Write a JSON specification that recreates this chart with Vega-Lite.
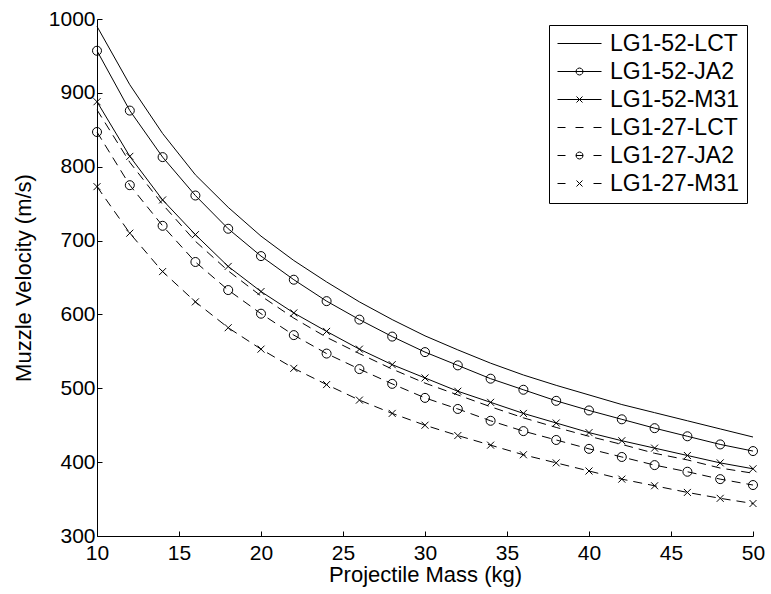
{
  "$schema": "https://vega.github.io/schema/vega-lite/v6.json",
  "width": 656,
  "height": 517,
  "autosize": {"type": "none"},
  "padding": {"left": 97, "top": 19, "right": 18, "bottom": 58},
  "background": "white",
  "config": {
    "view": {"stroke": null},
    "font": "Liberation Sans",
    "axis": {
      "labelFont": "Liberation Sans",
      "titleFont": "Liberation Sans",
      "labelFontSize": 21,
      "titleFontSize": 22,
      "titleFontWeight": "normal",
      "labelColor": "black",
      "titleColor": "black",
      "domainColor": "black",
      "tickColor": "black",
      "domainWidth": 1,
      "tickWidth": 1,
      "tickSize": -5,
      "grid": false,
      "labelFlush": false,
      "labelOverlap": false
    }
  },
  "data": {
    "values": [
      {"mass": 10, "LG1-52-LCT": 990, "LG1-52-JA2": 957, "LG1-52-M31": 888, "LG1-27-LCT": 877, "LG1-27-JA2": 847, "LG1-27-M31": 773},
      {"mass": 12, "LG1-52-LCT": 911, "LG1-52-JA2": 876, "LG1-52-M31": 814, "LG1-27-LCT": 806, "LG1-27-JA2": 775, "LG1-27-M31": 710},
      {"mass": 14, "LG1-52-LCT": 845, "LG1-52-JA2": 813, "LG1-52-M31": 755, "LG1-27-LCT": 749, "LG1-27-JA2": 720, "LG1-27-M31": 658},
      {"mass": 16, "LG1-52-LCT": 789, "LG1-52-JA2": 761, "LG1-52-M31": 708, "LG1-27-LCT": 699, "LG1-27-JA2": 671, "LG1-27-M31": 617},
      {"mass": 18, "LG1-52-LCT": 745, "LG1-52-JA2": 716, "LG1-52-M31": 665, "LG1-27-LCT": 659, "LG1-27-JA2": 633, "LG1-27-M31": 582},
      {"mass": 20, "LG1-52-LCT": 706, "LG1-52-JA2": 679, "LG1-52-M31": 631, "LG1-27-LCT": 625, "LG1-27-JA2": 601, "LG1-27-M31": 553},
      {"mass": 22, "LG1-52-LCT": 673, "LG1-52-JA2": 647, "LG1-52-M31": 602, "LG1-27-LCT": 595, "LG1-27-JA2": 572, "LG1-27-M31": 527},
      {"mass": 24, "LG1-52-LCT": 644, "LG1-52-JA2": 618, "LG1-52-M31": 577, "LG1-27-LCT": 569, "LG1-27-JA2": 547, "LG1-27-M31": 505},
      {"mass": 26, "LG1-52-LCT": 617, "LG1-52-JA2": 593, "LG1-52-M31": 553, "LG1-27-LCT": 547, "LG1-27-JA2": 526, "LG1-27-M31": 484},
      {"mass": 28, "LG1-52-LCT": 593, "LG1-52-JA2": 570, "LG1-52-M31": 532, "LG1-27-LCT": 526, "LG1-27-JA2": 506, "LG1-27-M31": 466},
      {"mass": 30, "LG1-52-LCT": 571, "LG1-52-JA2": 549, "LG1-52-M31": 514, "LG1-27-LCT": 507, "LG1-27-JA2": 487, "LG1-27-M31": 450},
      {"mass": 32, "LG1-52-LCT": 552, "LG1-52-JA2": 531, "LG1-52-M31": 496, "LG1-27-LCT": 491, "LG1-27-JA2": 472, "LG1-27-M31": 436},
      {"mass": 34, "LG1-52-LCT": 534, "LG1-52-JA2": 513, "LG1-52-M31": 481, "LG1-27-LCT": 475, "LG1-27-JA2": 456, "LG1-27-M31": 423},
      {"mass": 36, "LG1-52-LCT": 518, "LG1-52-JA2": 498, "LG1-52-M31": 466, "LG1-27-LCT": 460, "LG1-27-JA2": 442, "LG1-27-M31": 410},
      {"mass": 38, "LG1-52-LCT": 504, "LG1-52-JA2": 483, "LG1-52-M31": 453, "LG1-27-LCT": 447, "LG1-27-JA2": 430, "LG1-27-M31": 399},
      {"mass": 40, "LG1-52-LCT": 491, "LG1-52-JA2": 470, "LG1-52-M31": 440, "LG1-27-LCT": 435, "LG1-27-JA2": 418, "LG1-27-M31": 388},
      {"mass": 42, "LG1-52-LCT": 478, "LG1-52-JA2": 458, "LG1-52-M31": 429, "LG1-27-LCT": 424, "LG1-27-JA2": 407, "LG1-27-M31": 377},
      {"mass": 44, "LG1-52-LCT": 467, "LG1-52-JA2": 446, "LG1-52-M31": 419, "LG1-27-LCT": 412, "LG1-27-JA2": 396, "LG1-27-M31": 368},
      {"mass": 46, "LG1-52-LCT": 456, "LG1-52-JA2": 435, "LG1-52-M31": 409, "LG1-27-LCT": 403, "LG1-27-JA2": 387, "LG1-27-M31": 359},
      {"mass": 48, "LG1-52-LCT": 445, "LG1-52-JA2": 424, "LG1-52-M31": 399, "LG1-27-LCT": 392, "LG1-27-JA2": 377, "LG1-27-M31": 351},
      {"mass": 50, "LG1-52-LCT": 434, "LG1-52-JA2": 415, "LG1-52-M31": 391, "LG1-27-LCT": 385, "LG1-27-JA2": 369, "LG1-27-M31": 344}
    ]
  },
  "transform": [
    {"fold": ["LG1-52-LCT", "LG1-52-JA2", "LG1-52-M31", "LG1-27-LCT", "LG1-27-JA2", "LG1-27-M31"], "as": ["series", "velocity"]}
  ],
  "encoding": {
    "x": {
      "field": "mass",
      "type": "quantitative",
      "scale": {"domain": [10, 50], "nice": false, "zero": false},
      "axis": {"values": [10, 15, 20, 25, 30, 35, 40, 45, 50], "format": "d", "title": "Projectile Mass (kg)", "labelPadding": 11, "titlePadding": 1}
    },
    "y": {
      "field": "velocity",
      "type": "quantitative",
      "scale": {"domain": [300, 1000], "nice": false, "zero": false},
      "axis": {"values": [300, 400, 500, 600, 700, 800, 900, 1000], "format": "d", "title": "Muzzle Velocity (m/s)", "labelPadding": 7, "titleX": -74, "titleBaseline": "middle"}
    }
  },
  "layer": [
    {
      "transform": [{"filter": {"field": "series", "oneOf": ["LG1-52-LCT", "LG1-52-JA2", "LG1-52-M31"]}}],
      "mark": {"type": "line", "color": "black", "strokeWidth": 1},
      "encoding": {"detail": {"field": "series", "type": "nominal"}}
    },
    {
      "transform": [{"filter": {"field": "series", "oneOf": ["LG1-27-LCT", "LG1-27-JA2", "LG1-27-M31"]}}],
      "mark": {"type": "line", "color": "black", "strokeWidth": 1, "strokeDash": [9, 6]},
      "encoding": {"detail": {"field": "series", "type": "nominal"}}
    },
    {
      "transform": [{"filter": {"field": "series", "oneOf": ["LG1-52-JA2", "LG1-27-JA2"]}}],
      "mark": {"type": "point", "shape": "circle", "size": 81, "filled": false, "stroke": "black", "strokeWidth": 1, "opacity": 1}
    },
    {
      "transform": [{"filter": {"field": "series", "oneOf": ["LG1-52-M31", "LG1-27-M31"]}}],
      "mark": {"type": "point", "shape": "M-1,-1L1,1M-1,1L1,-1", "size": 49, "filled": false, "stroke": "black", "strokeWidth": 1, "opacity": 1}
    },
    {
      "mark": {"type": "point", "filled": false, "color": "black", "strokeWidth": 1, "opacity": 0},
      "encoding": {
        "shape": {
          "field": "series",
          "type": "nominal",
          "scale": {
            "domain": ["LG1-52-LCT", "LG1-52-JA2", "LG1-52-M31", "LG1-27-LCT", "LG1-27-JA2", "LG1-27-M31"],
            "range": [
              "M-1,0H3.4",
              "M-1,0H3.4M1.55,0L1.503,0.175L1.375,0.303L1.2,0.35L1.025,0.303L0.897,0.175L0.85,0L0.897,-0.175L1.025,-0.303L1.2,-0.35L1.375,-0.303L1.503,-0.175Z",
              "M-1,0H3.4M0.9,-0.3L1.5,0.3M0.9,0.3L1.5,-0.3",
              "M-1,0H-0.2M0.8,0H1.6M2.6,0H3.4",
              "M-1,0H-0.2M2.6,0H3.4M0.85,0H1.55M1.55,0L1.503,0.175L1.375,0.303L1.2,0.35L1.025,0.303L0.897,0.175L0.85,0L0.897,-0.175L1.025,-0.303L1.2,-0.35L1.375,-0.303L1.503,-0.175Z",
              "M-1,0H-0.2M2.6,0H3.4M0.9,-0.3L1.5,0.3M0.9,0.3L1.5,-0.3"
            ]
          },
          "legend": {
            "title": null,
            "orient": "top-right",
            "offset": 6,
            "padding": 7,
            "strokeColor": "black",
            "fillColor": "white",
            "labelFont": "Liberation Sans",
            "labelFontSize": 23,
            "labelColor": "black",
            "symbolSize": 400,
            "symbolStrokeColor": "black",
            "symbolFillColor": "transparent",
            "symbolStrokeWidth": 1,
            "symbolOpacity": 1,
            "labelOffset": 31,
            "rowPadding": 4
          }
        }
      }
    }
  ]
}
